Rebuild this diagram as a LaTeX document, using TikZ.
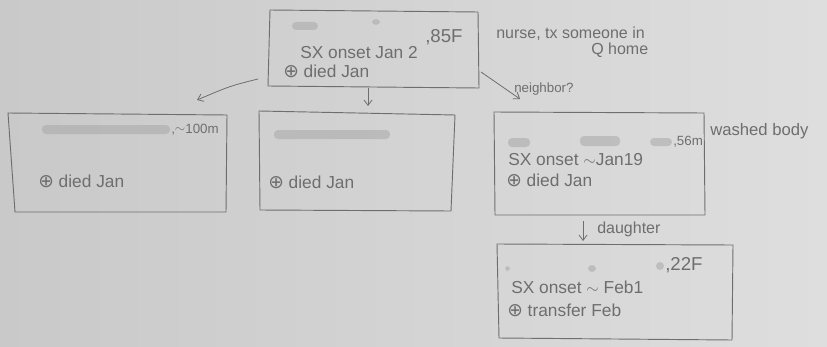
\documentclass[tikz,border=0pt]{standalone}
\usepackage{fontspec}
\setmainfont{Liberation Sans}
\newfontfamily\symfont{DejaVu Sans}
\usetikzlibrary{arrows.meta}
\definecolor{paperA}{HTML}{C9C9C9}
\definecolor{paperB}{HTML}{DEDEDE}
\definecolor{pencil}{HTML}{6E6E6E}
\definecolor{smudge}{HTML}{A8A8A8}
\tikzset{
  card/.style={draw=pencil, line width=0.7pt},
  hand/.style={text=pencil, font=\fontsize{13}{14}\selectfont, anchor=west, inner sep=0pt},
  big/.style={text=pencil, font=\fontsize{14}{15}\selectfont, anchor=west, inner sep=0pt},
  note/.style={text=pencil, font=\fontsize{12}{13}\selectfont, anchor=west, inner sep=0pt},
  tiny/.style={text=pencil, font=\fontsize{10}{11}\selectfont, anchor=west, inner sep=0pt},
  link/.style={draw=pencil, line width=0.6pt, -{Straight Barb[length=4pt,width=6pt]}},
  blur/.style={fill=smudge, opacity=0.55, rounded corners=3pt},
}
\newcommand{\pmark}{{\symfont\fontsize{14}{14}\selectfont ⊕}}
\begin{document}
\begin{tikzpicture}[x=0.75pt,y=-0.75pt]
\useasboundingbox (0,0) rectangle (827,346);
\shade[left color=paperA, right color=paperB] (0,0) rectangle (827,346);
% boxes
\draw[card] (270,10) -- (478,12) -- (479,88) -- (268,86) -- cycle;
\draw[card] (8,113) -- (227,115) -- (226,212) -- (15,212) -- cycle;
\draw[card] (259,111) -- (455,115) -- (451,211) -- (260,210) -- cycle;
\draw[card] (494,112) -- (704,113) -- (705,215) -- (495,215) -- cycle;
\draw[card] (497,244) -- (733,245) -- (732,340) -- (499,338) -- cycle;
% connector anchors
\coordinate (tl) at (258,79);
\coordinate (lb) at (197,100);
\coordinate (tm) at (368,88);
\coordinate (mb) at (368,106);
\coordinate (tr) at (481,72);
\coordinate (rb) at (520,99);
\coordinate (rd1) at (583,221);
\coordinate (rd2) at (583,241);
\draw[link] (tl) .. controls (230,86) .. (lb);
\draw[link] (tm) -- (mb);
\draw[link] (tr) -- (rb);
\draw[link] (rd1) -- (rd2);
% smudges (redacted names)
\fill[blur] (292,22) rectangle (318,30);
\fill[blur] (372,19) rectangle (380,25);
\fill[blur] (42,125) rectangle (170,134);
\fill[blur] (274,130) rectangle (390,139);
\fill[blur] (508,138) rectangle (530,147);
\fill[blur] (580,136) rectangle (620,146);
\fill[blur] (650,138) rectangle (672,146);
\fill[blur] (505,266) rectangle (510,271);
\fill[blur] (588,265) rectangle (596,272);
\fill[blur] (656,262) rectangle (664,270);
% texts
\node[big] (t85) at (425,37) {,85F};
\node[hand] (ton) at (300,53) {SX onset Jan 2};
\node[hand] (tdi) at (283,71) {\pmark\ died Jan};
\node[note] (nurse) at (496,34) {nurse, tx someone in};
\node[note] (qhome) at (591,50) {Q home};
\node[tiny] (neigh) at (514,89) {neighbor?};
\node[tiny] (l100) at (171,130) {,\raisebox{1pt}{$\sim$}100m};
\node[hand] (ldi) at (38,181) {\pmark\ died Jan};
\node[hand] (mdi) at (268,182) {\pmark\ died Jan};
\node[tiny] (r56) at (673,142) {,56m};
\node[note, font=\fontsize{12.5}{13}\selectfont] (wash) at (710,131) {washed body};
\node[hand] (ron) at (508,160) {SX onset ${\sim}$Jan19};
\node[hand] (rdi) at (506,180) {\pmark\ died Jan};
\node[note] (daught) at (597,229) {daughter};
\node[big] (b22) at (665,265) {,22F};
\node[hand] (bon) at (511,287) {SX onset ${\sim}$ Feb1};
\node[hand] (btr) at (507,310) {\pmark\ transfer Feb};
\end{tikzpicture}
\end{document}
